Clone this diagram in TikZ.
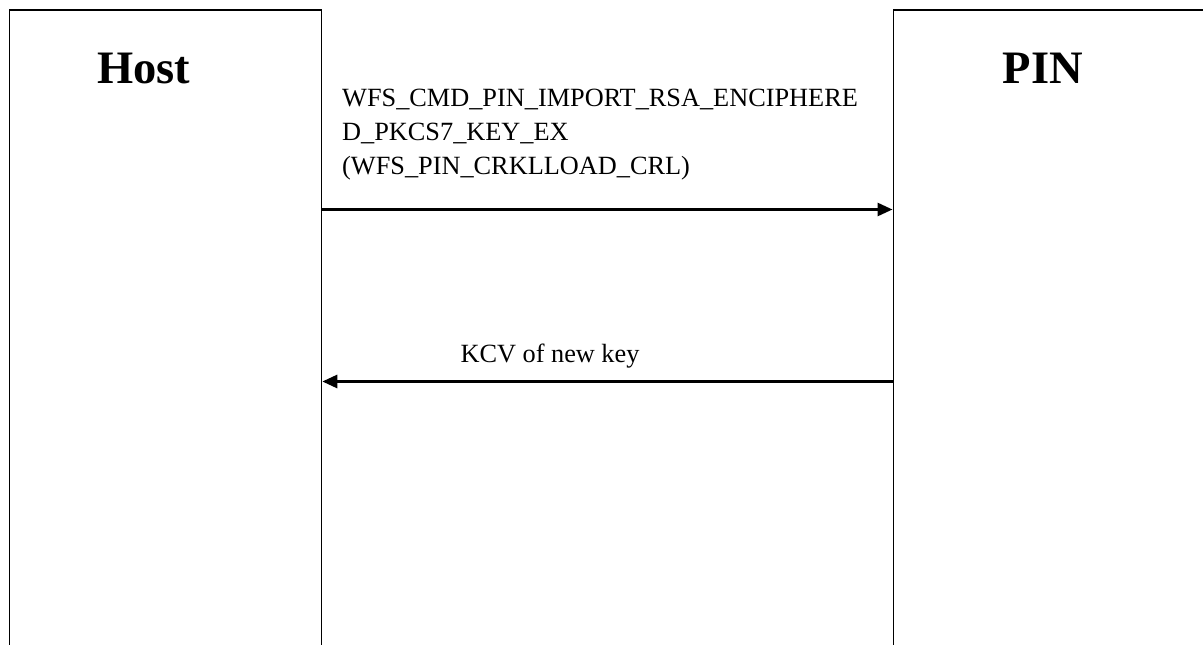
\documentclass[tikz,border=0pt]{standalone}
\usepackage{fontspec}
\setmainfont{Liberation Serif}
\usetikzlibrary{arrows.meta}
\begin{document}
\begin{tikzpicture}[x=1pt,y=-1pt,
  lane/.style={draw, line width=1.8pt, minimum height=720pt, anchor=north west, inner sep=0pt},
  actor/.style={font=\fontsize{46.5}{50}\selectfont\bfseries, inner sep=0pt, anchor=base},
  msgtext/.style={font=\fontsize{26.3}{34}\selectfont, align=left, inner sep=0pt},
  msg/.style={line width=2.8pt, -{Triangle[length=15pt,width=13pt]}}]
\useasboundingbox (0,0) rectangle (1203,645);
\clip (0,0) rectangle (1203,645);
\node[lane, minimum width=312pt] (host) at (8.5,9) {};
\node[lane, minimum width=330pt] (pin) at (892.5,9) {};
\node[actor] (hostlbl) at (143.5,83) {Host};
\node[actor] (pinlbl) at (1043,83) {PIN};
\node[msgtext, anchor=base west] (req) at (342,174) {WFS\_CMD\_PIN\_IMPORT\_RSA\_ENCIPHERE\\D\_PKCS7\_KEY\_EX\\(WFS\_PIN\_CRKLLOAD\_CRL)};
\coordinate (r1) at (0,209.5);
\coordinate (r2) at (0,381.5);
\draw[msg] (host.east |- r1) -- (pin.west |- r1);
\node[msgtext, anchor=base] (resp) at (550,362) {KCV of new key};
\draw[msg] (pin.west |- r2) -- (host.east |- r2);
\end{tikzpicture}
\end{document}
